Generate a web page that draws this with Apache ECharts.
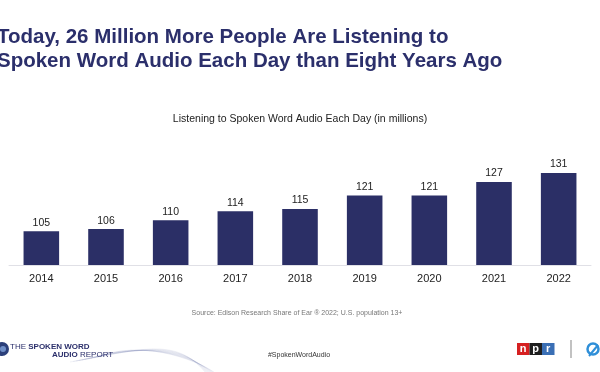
<!DOCTYPE html>
<html><head><meta charset="utf-8">
<script src="https://cdn.jsdelivr.net/npm/echarts@6/dist/echarts.min.js"></script>
<style>html,body{margin:0;padding:0;background:#fff}#c{width:600px;height:372px}</style>
</head><body><div id="c"></div>
<script>
const years = ['2014','2015','2016','2017','2018','2019','2020','2021','2022'];
const listeners = [105,106,110,114,115,121,121,127,131];
const titleText = 'Today, 26 Million More People Are Listening to\nSpoken Word Audio Each Day than Eight Years Ago';
const subtitleText = 'Listening to Spoken Word Audio Each Day (in millions)';
const sourceText = 'Source: Edison Research Share of Ear \u00ae 2022; U.S. population 13+';

const chart = echarts.init(document.getElementById('c'));
const swoosh = [];
for (let i = 0; i < 10; i++) {
  swoosh.push({type: 'bezierCurve', silent: true,
    shape: {x1: 70 + i * 3, y1: 362 - i * 0.5, cpx1: 140, cpy1: 350 - i * 1.2, cpx2: 175 + i * 2, cpy2: 336 + i * 2.5, x2: 205 + i, y2: 372},
    style: {stroke: 'rgba(110,115,165,0.12)', lineWidth: 0.8, fill: null}});
}
chart.setOption({
  animation: false,
  backgroundColor: '#fff',
  title: [
    {text: titleText, left: -8, top: 21, textStyle: {fontFamily: 'Liberation Sans', fontWeight: 'bold', fontSize: 20.5, color: '#2b2f6b', lineHeight: 23.5}},
    {text: subtitleText, left: 'center', top: 109, textStyle: {fontFamily: 'Liberation Sans', fontWeight: 'normal', fontSize: 10.5, color: '#222'}}
  ],
  grid: {left: 9, right: 9, top: 108, bottom: 107},
  xAxis: {
    type: 'category', data: years,
    axisLine: {lineStyle: {color: '#e0e0e6', width: 1}},
    axisTick: {show: false},
    axisLabel: {fontFamily: 'Liberation Sans', fontSize: 11, color: '#222', margin: 8}
  },
  yAxis: {type: 'value', min: 90, max: 160, show: false, splitLine: {show: false}},
  series: [{
    type: 'bar', data: listeners, barWidth: '55%',
    itemStyle: {color: '#2b2f66'},
    label: {show: true, position: 'top', distance: 3, fontFamily: 'Liberation Sans', fontSize: 10.5, color: '#222'}
  }],
  graphic: swoosh.concat([
    {type: 'text', x: 297, y: 313, style: {text: sourceText, font: '7px "Liberation Sans"', fill: '#777', align: 'center', verticalAlign: 'middle'}},
    {type: 'circle', shape: {cx: 2, cy: 349, r: 7}, style: {fill: '#2b3f7a'}},
    {type: 'circle', shape: {cx: 3, cy: 349, r: 3}, style: {fill: '#6f8fc8'}},
    {type: 'text', x: 10, y: 347, style: {text: '{a|THE }{b|SPOKEN WORD}', verticalAlign: 'middle', rich: {a: {font: '8px "Liberation Sans"', fill: '#2b2f6b'}, b: {font: 'bold 8px "Liberation Sans"', fill: '#2b2f6b'}}}},
    {type: 'text', x: 52, y: 355, style: {text: '{b|AUDIO }{a|REPORT}', verticalAlign: 'middle', rich: {a: {font: '8px "Liberation Sans"', fill: '#2b2f6b'}, b: {font: 'bold 8px "Liberation Sans"', fill: '#2b2f6b'}}}},
    {type: 'text', x: 299, y: 355, style: {text: '#SpokenWordAudio', font: '7px "Liberation Sans"', fill: '#333', align: 'center', verticalAlign: 'middle'}},
    {type: 'rect', shape: {x: 517, y: 343, width: 12.5, height: 12}, style: {fill: '#d62021'}},
    {type: 'rect', shape: {x: 529.5, y: 343, width: 12.5, height: 12}, style: {fill: '#1e1e1e'}},
    {type: 'rect', shape: {x: 542, y: 343, width: 12.5, height: 12}, style: {fill: '#3a6fb5'}},
    {type: 'text', x: 523.2, y: 349, style: {text: 'n', font: 'bold 11px "Liberation Sans"', fill: '#fff', align: 'center', verticalAlign: 'middle'}},
    {type: 'text', x: 535.7, y: 349, style: {text: 'p', font: 'bold 11px "Liberation Sans"', fill: '#fff', align: 'center', verticalAlign: 'middle'}},
    {type: 'text', x: 548.2, y: 349, style: {text: 'r', font: 'bold 11px "Liberation Sans"', fill: '#fff', align: 'center', verticalAlign: 'middle'}},
    {type: 'line', shape: {x1: 571, y1: 340, x2: 571, y2: 358}, style: {stroke: '#999', lineWidth: 1.2}},
    {type: 'circle', shape: {cx: 593, cy: 349, r: 5.5}, style: {fill: 'none', stroke: '#2f8fd8', lineWidth: 2.5}},
    {type: 'line', shape: {x1: 589, y1: 356, x2: 598, y2: 345}, style: {stroke: '#2f8fd8', lineWidth: 2}}
  ])
});
</script></body></html>
